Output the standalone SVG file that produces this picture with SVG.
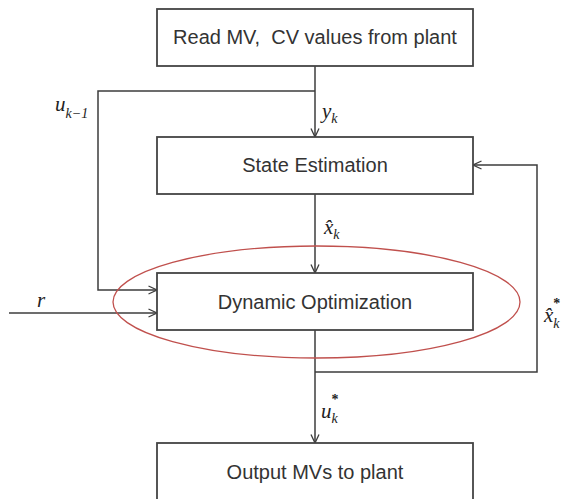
<svg xmlns="http://www.w3.org/2000/svg" width="566" height="499" viewBox="0 0 566 499">
<defs>
<style>
.box{fill:#fff;stroke:#444;stroke-width:1.8}
.lbl{font-family:"Liberation Sans",Arial,sans-serif;font-size:20px;fill:#333;text-anchor:middle;white-space:pre}
.ln{fill:none;stroke:#3c3c3c;stroke-width:1.5}
.m{font-family:"Liberation Serif","Times New Roman",serif;font-style:italic;fill:#222;font-size:21px}
.s{font-size:14px}
.st{font-size:14px;font-style:normal;font-weight:bold}
</style>
<marker id="ah" viewBox="0 0 10 10" refX="9.5" refY="5" markerWidth="10" markerHeight="10" markerUnits="userSpaceOnUse" orient="auto">
<path d="M1,1 L9.5,5 L1,9" fill="none" stroke="#3c3c3c" stroke-width="1.3"/>
</marker>
</defs>
<rect width="566" height="499" fill="#fff"/>
<g id="connectors">
<path class="ln" d="M315,66 V137" marker-end="url(#ah)"/>
<path class="ln" d="M315,91 H98 V290 H157" marker-end="url(#ah)"/>
<path class="ln" d="M9,313 H157" marker-end="url(#ah)"/>
<path class="ln" d="M315,194 V273" marker-end="url(#ah)"/>
<path class="ln" d="M315,330 V443" marker-end="url(#ah)"/>
<path class="ln" d="M315,372 H537 V165 H473" marker-end="url(#ah)"/>
</g>
<g id="read">
<rect class="box" x="157" y="9" width="316" height="57"/>
<text class="lbl" x="315" y="44" xml:space="preserve">Read MV,  CV values from plant</text>
</g>
<g id="state">
<rect class="box" x="157" y="137" width="316" height="57"/>
<text class="lbl" x="315" y="172">State Estimation</text>
</g>
<g id="dynopt">
<rect class="box" x="157" y="273" width="316" height="57"/>
<text class="lbl" x="315" y="309">Dynamic Optimization</text>
</g>
<g id="output">
<rect class="box" x="157" y="443" width="316" height="70"/>
<text class="lbl" x="315" y="479">Output MVs to plant</text>
</g>
<g id="highlight">
<ellipse cx="316.5" cy="302" rx="203.5" ry="56" fill="none" stroke="#c0504d" stroke-width="1.3"/>
</g>
<g id="labels">
<text class="m" x="55" y="111">u<tspan class="s" dx="0" dy="7">k−1</tspan></text>
<text class="m" x="322" y="118">y<tspan class="s" dy="5">k</tspan></text>
<text class="m" x="324" y="234">x̂<tspan class="s" dy="5">k</tspan></text>
<text class="m" x="321" y="418">u<tspan class="st" dy="-14">*</tspan><tspan class="s" dx="-7" dy="19">k</tspan></text>
<text class="m" x="37" y="307">r</text>
<text class="m" x="544" y="322">x̂<tspan class="st" dy="-14">*</tspan><tspan class="s" dx="-7" dy="20">k</tspan></text>
</g>
</svg>
